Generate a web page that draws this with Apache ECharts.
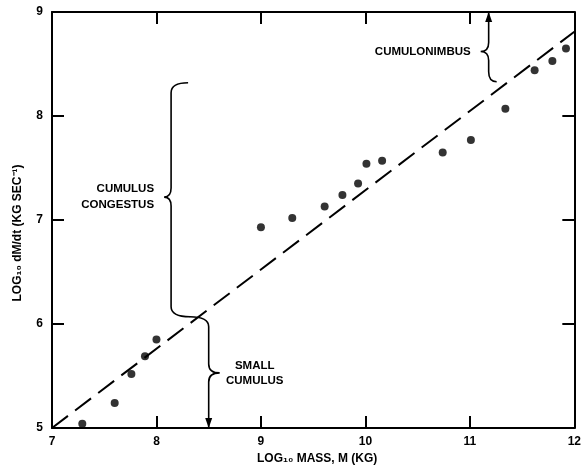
<!DOCTYPE html>
<html><head><meta charset="utf-8">
<script src="https://cdn.jsdelivr.net/npm/echarts/dist/echarts.min.js"></script>
<style>html,body{margin:0;padding:0;background:#fff}#c{width:584px;height:472px}</style>
</head><body><div id="c"></div>
<script>
// observed clouds: log10 mass (kg) vs log10 dM/dt (kg/s)
const massLog = [7.29,7.60,7.76,7.89,8.00,9.00,9.30,9.61,9.78,9.93,10.01,10.16,10.74,11.01,11.34,11.62,11.79,11.92];
const fluxLog = [5.04,5.24,5.52,5.69,5.85,6.93,7.02,7.13,7.24,7.35,7.54,7.57,7.65,7.77,8.07,8.44,8.53,8.65];
// dashed fit line end points
const fitX = [7, 12];
const fitY = [5.0, 8.81];
// axis ticks
const xTicks = [7, 8, 9, 10, 11, 12];
const yTicks = [5, 6, 7, 8, 9];
// axis titles
const xTitle = 'LOG₁₀ MASS, M (KG)';
const yTitle = 'LOG₁₀ dM/dt (KG SEC⁻¹)';
// cloud-class brackets (data coords): x, low, high, tip level
const braceLabels = ['CUMULUS\nCONGESTUS', 'SMALL\nCUMULUS', 'CUMULONIMBUS'];
const braceX = [8.14, 8.50, 11.18];
const braceLow = [6.07, 5.0, 8.33];
const braceHigh = [8.32, 6.07, 9.0];
const braceTip = [7.22, 5.53, 8.62];

// drawing style for brackets (px)
const braceStyle = [
  {tip: -7, topHook: 17, botHook: 19, arrow: null, tAlign: 'right', tGap: 10, lh: 16},
  {tip: 11, topHook: -19, botHook: null, arrow: 'down', tAlign: 'center', tGap: 35, lh: 15},
  {tip: -8, topHook: null, botHook: 8, arrow: 'up', tAlign: 'right', tGap: 10, lh: 15}
];

const FONT = '"Liberation Sans", Arial, sans-serif';
const chart = echarts.init(document.getElementById('c'), null, {renderer: 'canvas'});

const scatterData = massLog.map((m, i) => [m, fluxLog[i]]);
const fitData = fitX.map((x, i) => [x, fitY[i]]);
const braceData = braceX.map((x, i) => [x, braceLow[i], braceHigh[i], braceTip[i]]);

function renderBrace(params, api) {
  const i = params.dataIndex;
  const s = braceStyle[i];
  const pTop = api.coord([api.value(0), api.value(2)]);
  const pBot = api.coord([api.value(0), api.value(1)]);
  const pMid = api.coord([api.value(0), api.value(3)]);
  const x = pTop[0], yT = pTop[1], yB = pBot[1], yM = pMid[1];
  const r = 10, r2 = 9;
  let d = '';
  if (s.topHook !== null) {
    d += 'M' + (x + s.topHook) + ' ' + yT + ' Q' + x + ' ' + yT + ' ' + x + ' ' + (yT + r);
  } else {
    d += 'M' + x + ' ' + yT;
  }
  d += ' L' + x + ' ' + (yM - r2);
  d += ' Q' + x + ' ' + yM + ' ' + (x + s.tip) + ' ' + yM;
  d += ' Q' + x + ' ' + yM + ' ' + x + ' ' + (yM + r2);
  if (s.botHook !== null) {
    d += ' L' + x + ' ' + (yB - r) + ' Q' + x + ' ' + yB + ' ' + (x + s.botHook) + ' ' + yB;
  } else {
    d += ' L' + x + ' ' + yB;
  }
  const children = [{
    type: 'path',
    shape: {pathData: d},
    style: {stroke: '#000', fill: null, lineWidth: 1.6}
  }];
  if (s.arrow === 'down') {
    children.push({type: 'polygon', shape: {points: [[x - 3.5, yB - 10], [x + 3.5, yB - 10], [x, yB]]}, style: {fill: '#000'}});
  } else if (s.arrow === 'up') {
    children.push({type: 'polygon', shape: {points: [[x - 3.5, yT + 10], [x + 3.5, yT + 10], [x, yT]]}, style: {fill: '#000'}});
  }
  let tx;
  if (s.tAlign === 'right') tx = x + s.tip - s.tGap;
  else tx = x + s.tip + s.tGap;
  children.push({
    type: 'text',
    x: tx, y: yM,
    style: {
      text: braceLabels[i],
      fontFamily: FONT, fontSize: 11.5, fontWeight: 'bold',
      fill: '#000', align: s.tAlign, verticalAlign: 'middle', lineHeight: s.lh
    }
  });
  return {type: 'group', children: children};
}

const axisCommon = {
  type: 'value',
  axisLine: {show: true, onZero: false, lineStyle: {color: '#000', width: 2}},
  axisTick: {show: true, inside: true, length: 12, lineStyle: {color: '#000', width: 2}},
  splitLine: {show: false}
};

chart.setOption({
  animation: false,
  backgroundColor: '#fff',
  grid: {left: 52, right: 1, top: 12, bottom: 44, containLabel: false},
  graphic: [{
    type: 'text', x: 18, y: 233, rotation: Math.PI / 2,
    style: {text: yTitle, fontFamily: FONT, fontSize: 12, fontWeight: 'bold', fill: '#000', align: 'center', verticalAlign: 'middle'}
  }],
  xAxis: [
    Object.assign({}, axisCommon, {
      position: 'bottom', min: xTicks[0], max: xTicks[xTicks.length - 1], interval: 1,
      axisLabel: {color: '#000', fontFamily: FONT, fontSize: 12, fontWeight: 'bold', margin: 8, showMaxLabel: true},
      name: xTitle, nameLocation: 'middle', nameGap: 23,
      nameTextStyle: {color: '#000', fontFamily: FONT, fontSize: 12, fontWeight: 'bold', padding: [0, 0, 0, 8]}
    }),
    Object.assign({}, axisCommon, {
      position: 'top', min: xTicks[0], max: xTicks[xTicks.length - 1], interval: 1,
      axisLabel: {show: false}
    })
  ],
  yAxis: [
    Object.assign({}, axisCommon, {
      position: 'left', min: yTicks[0], max: yTicks[yTicks.length - 1], interval: 1,
      axisLabel: {color: '#000', fontFamily: FONT, fontSize: 12, fontWeight: 'bold', margin: 9}
    }),
    Object.assign({}, axisCommon, {
      position: 'right', min: yTicks[0], max: yTicks[yTicks.length - 1], interval: 1,
      axisLabel: {show: false}
    })
  ],
  series: [
    {
      type: 'line', data: fitData, xAxisIndex: 0, yAxisIndex: 0,
      symbol: 'none', lineStyle: {color: '#000', width: 2, type: [20, 9]}
    },
    {
      type: 'scatter', data: scatterData, xAxisIndex: 0, yAxisIndex: 0,
      symbol: 'circle', symbolSize: 8, itemStyle: {color: '#000'}
    },
    {
      type: 'custom', data: braceData, xAxisIndex: 0, yAxisIndex: 0,
      renderItem: renderBrace, clip: false, silent: true
    }
  ]
});
</script>
</body></html>
